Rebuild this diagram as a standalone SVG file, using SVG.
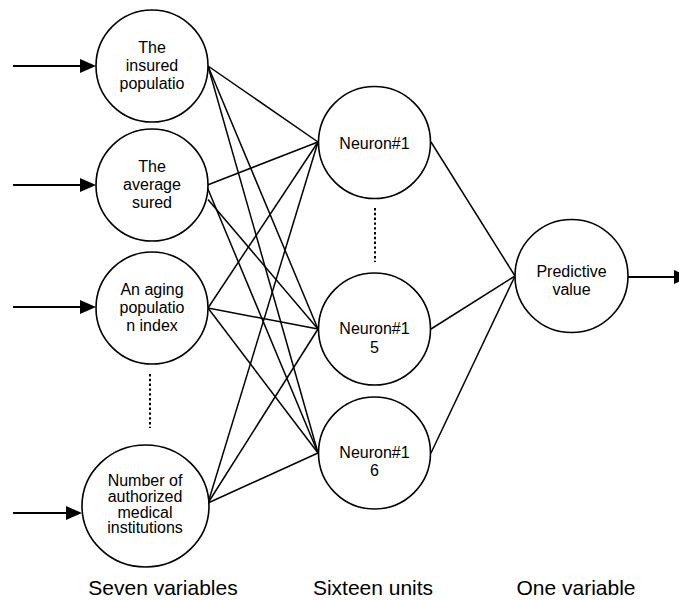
<svg xmlns="http://www.w3.org/2000/svg" width="679" height="600" viewBox="0 0 679 600">
<style>
.node{fill:#fff;stroke:#000;stroke-width:1.6}
.t{font-family:"Liberation Sans",Arial,sans-serif;font-size:16px;fill:#000;text-anchor:middle}
.lab{font-family:"Liberation Sans",Arial,sans-serif;font-size:21px;fill:#000;text-anchor:middle}
.c{stroke:#000;stroke-width:1.5;fill:none}
.a{stroke:#000;stroke-width:2.2;fill:none}
.dot{stroke:#000;stroke-width:2;stroke-dasharray:2.4 2.4;fill:none}
</style>
<defs>
<marker id="ah" markerUnits="userSpaceOnUse" markerWidth="17" markerHeight="15" refX="0" refY="7" orient="auto" overflow="visible">
<path d="M0,0 L16,7 L0,14 Z" fill="#000"/>
</marker>
</defs>
<rect width="679" height="600" fill="#fff"/>
<g id="connectors">
<line class="c" x1="208" y1="66" x2="318" y2="142"/>
<line class="c" x1="208" y1="66" x2="318" y2="329"/>
<line class="c" x1="208" y1="66" x2="318" y2="453"/>
<line class="c" x1="207.5" y1="185" x2="318" y2="142"/>
<line class="c" x1="207.5" y1="188" x2="318" y2="453"/>
<line class="c" x1="208" y1="199.5" x2="318" y2="329"/>
<line class="c" x1="208" y1="308" x2="318" y2="142"/>
<line class="c" x1="208" y1="308" x2="318" y2="329"/>
<line class="c" x1="208" y1="308" x2="318" y2="453"/>
<line class="c" x1="208" y1="503" x2="318" y2="142"/>
<line class="c" x1="208" y1="503" x2="318" y2="329"/>
<line class="c" x1="208" y1="503" x2="318" y2="453"/>
<line class="c" x1="431" y1="142" x2="515" y2="276"/>
<line class="c" x1="431" y1="329" x2="515" y2="276"/>
<line class="c" x1="431" y1="453" x2="515" y2="276"/>
<line class="a" x1="13" y1="66" x2="80" y2="66" marker-end="url(#ah)"/>
<line class="a" x1="13" y1="185" x2="80" y2="185" marker-end="url(#ah)"/>
<line class="a" x1="13" y1="307" x2="80" y2="307" marker-end="url(#ah)"/>
<line class="a" x1="13" y1="513" x2="66" y2="513" marker-end="url(#ah)"/>
<line class="a" x1="628" y1="277" x2="674" y2="277" marker-end="url(#ah)"/>
<line class="dot" x1="150" y1="374" x2="150" y2="428"/>
<line class="dot" x1="375" y1="208" x2="375" y2="262"/>
</g>
<g id="in1">
<circle class="node" cx="152" cy="66" r="56"/>
<text class="t" x="152" y="52.5">The</text>
<text class="t" x="152" y="70.5">insured</text>
<text class="t" x="152" y="88.5">populatio</text>
</g>
<g id="in2">
<circle class="node" cx="152" cy="185" r="56"/>
<text class="t" x="152" y="172">The</text>
<text class="t" x="152" y="190">average</text>
<text class="t" x="152" y="208">sured</text>
</g>
<g id="in3">
<circle class="node" cx="152" cy="308" r="56"/>
<text class="t" x="152" y="295">An aging</text>
<text class="t" x="152" y="313">populatio</text>
<text class="t" x="152" y="331">n index</text>
</g>
<g id="in4">
<ellipse class="node" cx="145.5" cy="506" rx="63.5" ry="61"/>
<text class="t" x="145" y="486">Number of</text>
<text class="t" x="145" y="502">authorized</text>
<text class="t" x="145" y="517.5">medical</text>
<text class="t" x="145" y="533">institutions</text>
</g>
<g id="h1">
<circle class="node" cx="374.5" cy="142.5" r="56"/>
<text class="t" x="374.5" y="149">Neuron#1</text>
</g>
<g id="h15">
<circle class="node" cx="374.5" cy="329" r="56"/>
<text class="t" x="374.5" y="334">Neuron#1</text>
<text class="t" x="374.5" y="352.5">5</text>
</g>
<g id="h16">
<circle class="node" cx="374.5" cy="453" r="56"/>
<text class="t" x="374.5" y="458">Neuron#1</text>
<text class="t" x="374.5" y="476">6</text>
</g>
<g id="out">
<circle class="node" cx="571.5" cy="276" r="56.5"/>
<text class="t" x="571.5" y="277">Predictive</text>
<text class="t" x="571.5" y="294.5">value</text>
</g>
<g id="labels">
<text class="lab" x="163" y="595">Seven variables</text>
<text class="lab" x="373" y="595">Sixteen units</text>
<text class="lab" x="576" y="595">One variable</text>
</g>
</svg>
